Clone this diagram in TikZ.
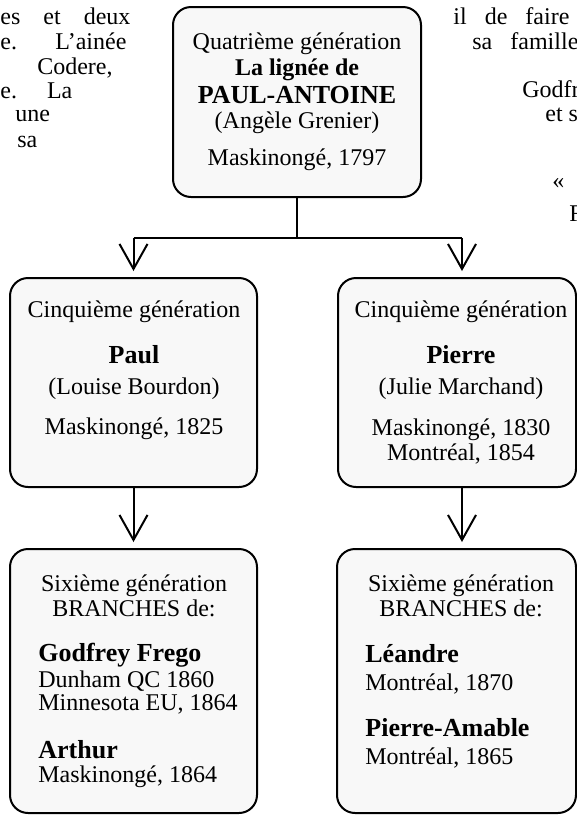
\documentclass[tikz,border=0pt]{standalone}
\usepackage{fontspec}
\setmainfont{Liberation Serif}
\usetikzlibrary{arrows.meta}
\definecolor{boxfill}{RGB}{248,248,248}
\begin{document}
\begin{tikzpicture}[x=0.5pt,y=-0.5pt,
  box/.style={draw=black, line width=1pt, rounded corners=9pt, fill=boxfill, inner sep=0pt},
  txt/.style={inner sep=0pt, anchor=base, font=\fontsize{12}{14}\selectfont},
  ltxt/.style={txt, anchor=base west},
  bname/.style={txt, font=\fontsize{13}{15}\selectfont\bfseries},
  lname/.style={bname, anchor=base west},
  conn/.style={line width=1pt},
  arr/.style={conn, -{Straight Barb[length=12.5pt,width=14pt]}, shorten >=3pt},
  bg/.style={inner sep=0pt, anchor=base west, font=\fontsize{12}{14}\selectfont}
]
\useasboundingbox (0,0) rectangle (577,815);
\clip (0,0) rectangle (577,815);

% background text fragments
\node[bg] (f1) at (0,24) {\hbox to 65pt{es\hfill et\hfill deux}};
\node[bg] (f2) at (0,49) {\hbox to 63pt{e.\hfill L’ainée}};
\node[bg, anchor=base east] (f3) at (113,74) {Codere,};
\node[bg] (f4) at (0,98) {\hbox to 36pt{e.\hfill La}};
\node[bg] (f5) at (15,121) {une};
\node[bg] (f6) at (17,147) {sa};
\node[bg] (g1) at (453,24) {\hbox to 58pt{il\hfill de\hfill faire}};
\node[bg] (g2) at (472,49) {\hbox to 53pt{sa\hfill famille}};
\node[bg] (g3) at (522,97) {Godfr};
\node[bg] (g4) at (545,121) {et s};
\node[bg] (g5) at (552,188) {«};
\node[bg] (g6) at (569,221) {F};

% boxes
\node[box, minimum width=124pt, minimum height=95pt] (top) at (297,102) {};
\node[box, minimum width=123.5pt, minimum height=104.5pt] (p5l) at (133.5,382.5) {};
\node[box, minimum width=119pt, minimum height=104.5pt] (p5r) at (457,382.5) {};
\node[box, minimum width=123.5pt, minimum height=132pt] (s6l) at (133.5,681) {};
\node[box, minimum width=119.5pt, minimum height=132pt] (s6r) at (456.5,681) {};

% connectors
\coordinate (jn) at (297,238);
\coordinate (jl) at (133.5,238);
\coordinate (jr) at (462,238);
\draw[conn] (top.south) -- (jn);
\draw[conn] (jl) -- (jr);
\draw[arr] (jl) -- (p5l.north);
\draw[arr] (jr) -- (jr |- p5r.north);
\draw[arr] (p5l.south) -- (s6l.north);
\draw[arr] (jr |- p5r.south) -- (jr |- s6r.north);

% top box text
\node[txt] (t1) at (297,49) {Quatrième génération};
\node[txt, font=\fontsize{12}{14}\selectfont\bfseries] (t2) at (297,75) {La lignée de};
\node[bname] (t3) at (297,103) {PAUL-ANTOINE};
\node[txt] (t4) at (297,128) {(Angèle Grenier)};
\node[txt] (t5) at (297,165) {Maskinongé, 1797};

% fifth generation, left
\node[txt] (a1) at (134,317) {Cinquième génération};
\node[bname] (a2) at (134,363) {Paul};
\node[txt] (a3) at (134,394) {(Louise Bourdon)};
\node[txt] (a4) at (134,434) {Maskinongé, 1825};

% fifth generation, right
\node[txt] (b1) at (461,317) {Cinquième génération};
\node[bname] (b2) at (461,363) {Pierre};
\node[txt] (b3) at (461,394) {(Julie Marchand)};
\node[txt] (b4) at (461,435) {Maskinongé, 1830};
\node[txt] (b5) at (461,460) {Montréal, 1854};

% sixth generation, left
\node[txt] (c1) at (134,591) {Sixième génération};
\node[txt] (c2) at (134,616) {BRANCHES de:};
\node[lname] (c3) at (38,661) {Godfrey Frego};
\node[ltxt] (c4) at (38,687) {Dunham QC 1860};
\node[ltxt] (c5) at (38,710) {Minnesota EU, 1864};
\node[lname] (c6) at (38,758) {Arthur};
\node[ltxt] (c7) at (38,782) {Maskinongé, 1864};

% sixth generation, right
\node[txt] (d1) at (461,591) {Sixième génération};
\node[txt] (d2) at (461,616) {BRANCHES de:};
\node[lname] (d3) at (365,662) {Léandre};
\node[ltxt] (d4) at (365,690) {Montréal, 1870};
\node[lname] (d5) at (365,736) {Pierre-Amable};
\node[ltxt] (d6) at (365,764) {Montréal, 1865};
\end{tikzpicture}
\end{document}
